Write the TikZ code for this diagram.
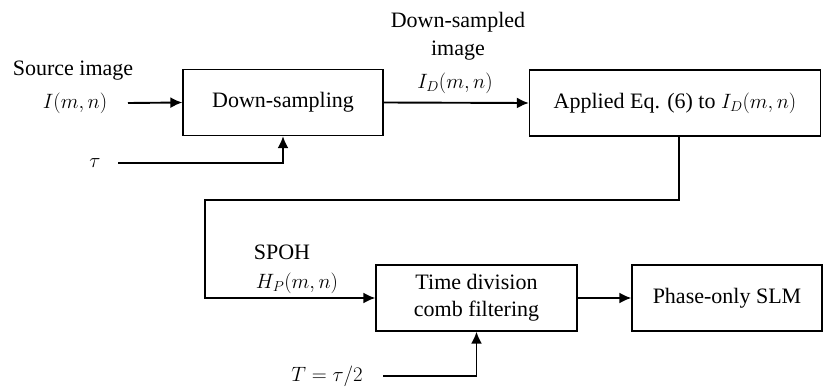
\documentclass[tikz,border=0pt]{standalone}
\usepackage{fontspec}
\setmainfont{Liberation Serif}
\usetikzlibrary{arrows.meta}
\begin{document}
\begin{tikzpicture}[x=1pt,y=-1pt,
  font=\rmfamily\fontsize{22}{25}\selectfont,
  blk/.style={draw, line width=1.3pt, minimum height=66pt, inner sep=0pt, align=center},
  con/.style={line width=1.9pt, -{Latex[length=12pt,width=11pt]}},
  lbl/.style={inner sep=0pt, align=center}]
\useasboundingbox (0,0) rectangle (823,388);
\node[blk, minimum width=200pt] (ds) at (283,102.5) {Down-sampling};
\node[blk, minimum width=291pt] (eq) at (675,103) {Applied Eq. (6) to $I_D(m,n)$};
\node[blk, minimum width=201pt, font=\rmfamily\fontsize{22}{27}\selectfont] (tdc) at (476.5,298) {Time division\\comb filtering};
\node[blk, minimum width=190pt] (slm) at (727,298) {Phase-only SLM};
\node[lbl] (src) at (73,71) {Source image};
\node[lbl] (img) at (75,103) {$I(m,n)$};
\node[lbl] (tau) at (95,163) {$\tau$};
\node[lbl, font=\rmfamily\fontsize{22}{28}\selectfont] (dsl) at (458,36) {Down-sampled\\image};
\node[lbl] (idl) at (455,83) {$I_D(m,n)$};
\node[lbl] (spoh) at (282,252) {SPOH};
\node[lbl] (hp) at (297,283) {$H_P(m,n)$};
\node[lbl] (tt) at (327,376) {$T=\tau/2$};
\coordinate (a0) at (128,103);
\coordinate (t0) at (118,163);
\coordinate (T0) at (383,376);
\coordinate (f1) at (679,200);
\coordinate (f2) at (205,200);
\draw[con] (a0) -- (ds.west);
\draw[con] (t0) -| (ds.south);
\draw[con] (ds.east) -- (eq.west);
\draw[con] (eq.south -| f1) -- (f1) -- (f2) |- (tdc.west);
\draw[con] (T0) -| (tdc.south);
\draw[con] (tdc.east) -- (slm.west);
\end{tikzpicture}
\end{document}
